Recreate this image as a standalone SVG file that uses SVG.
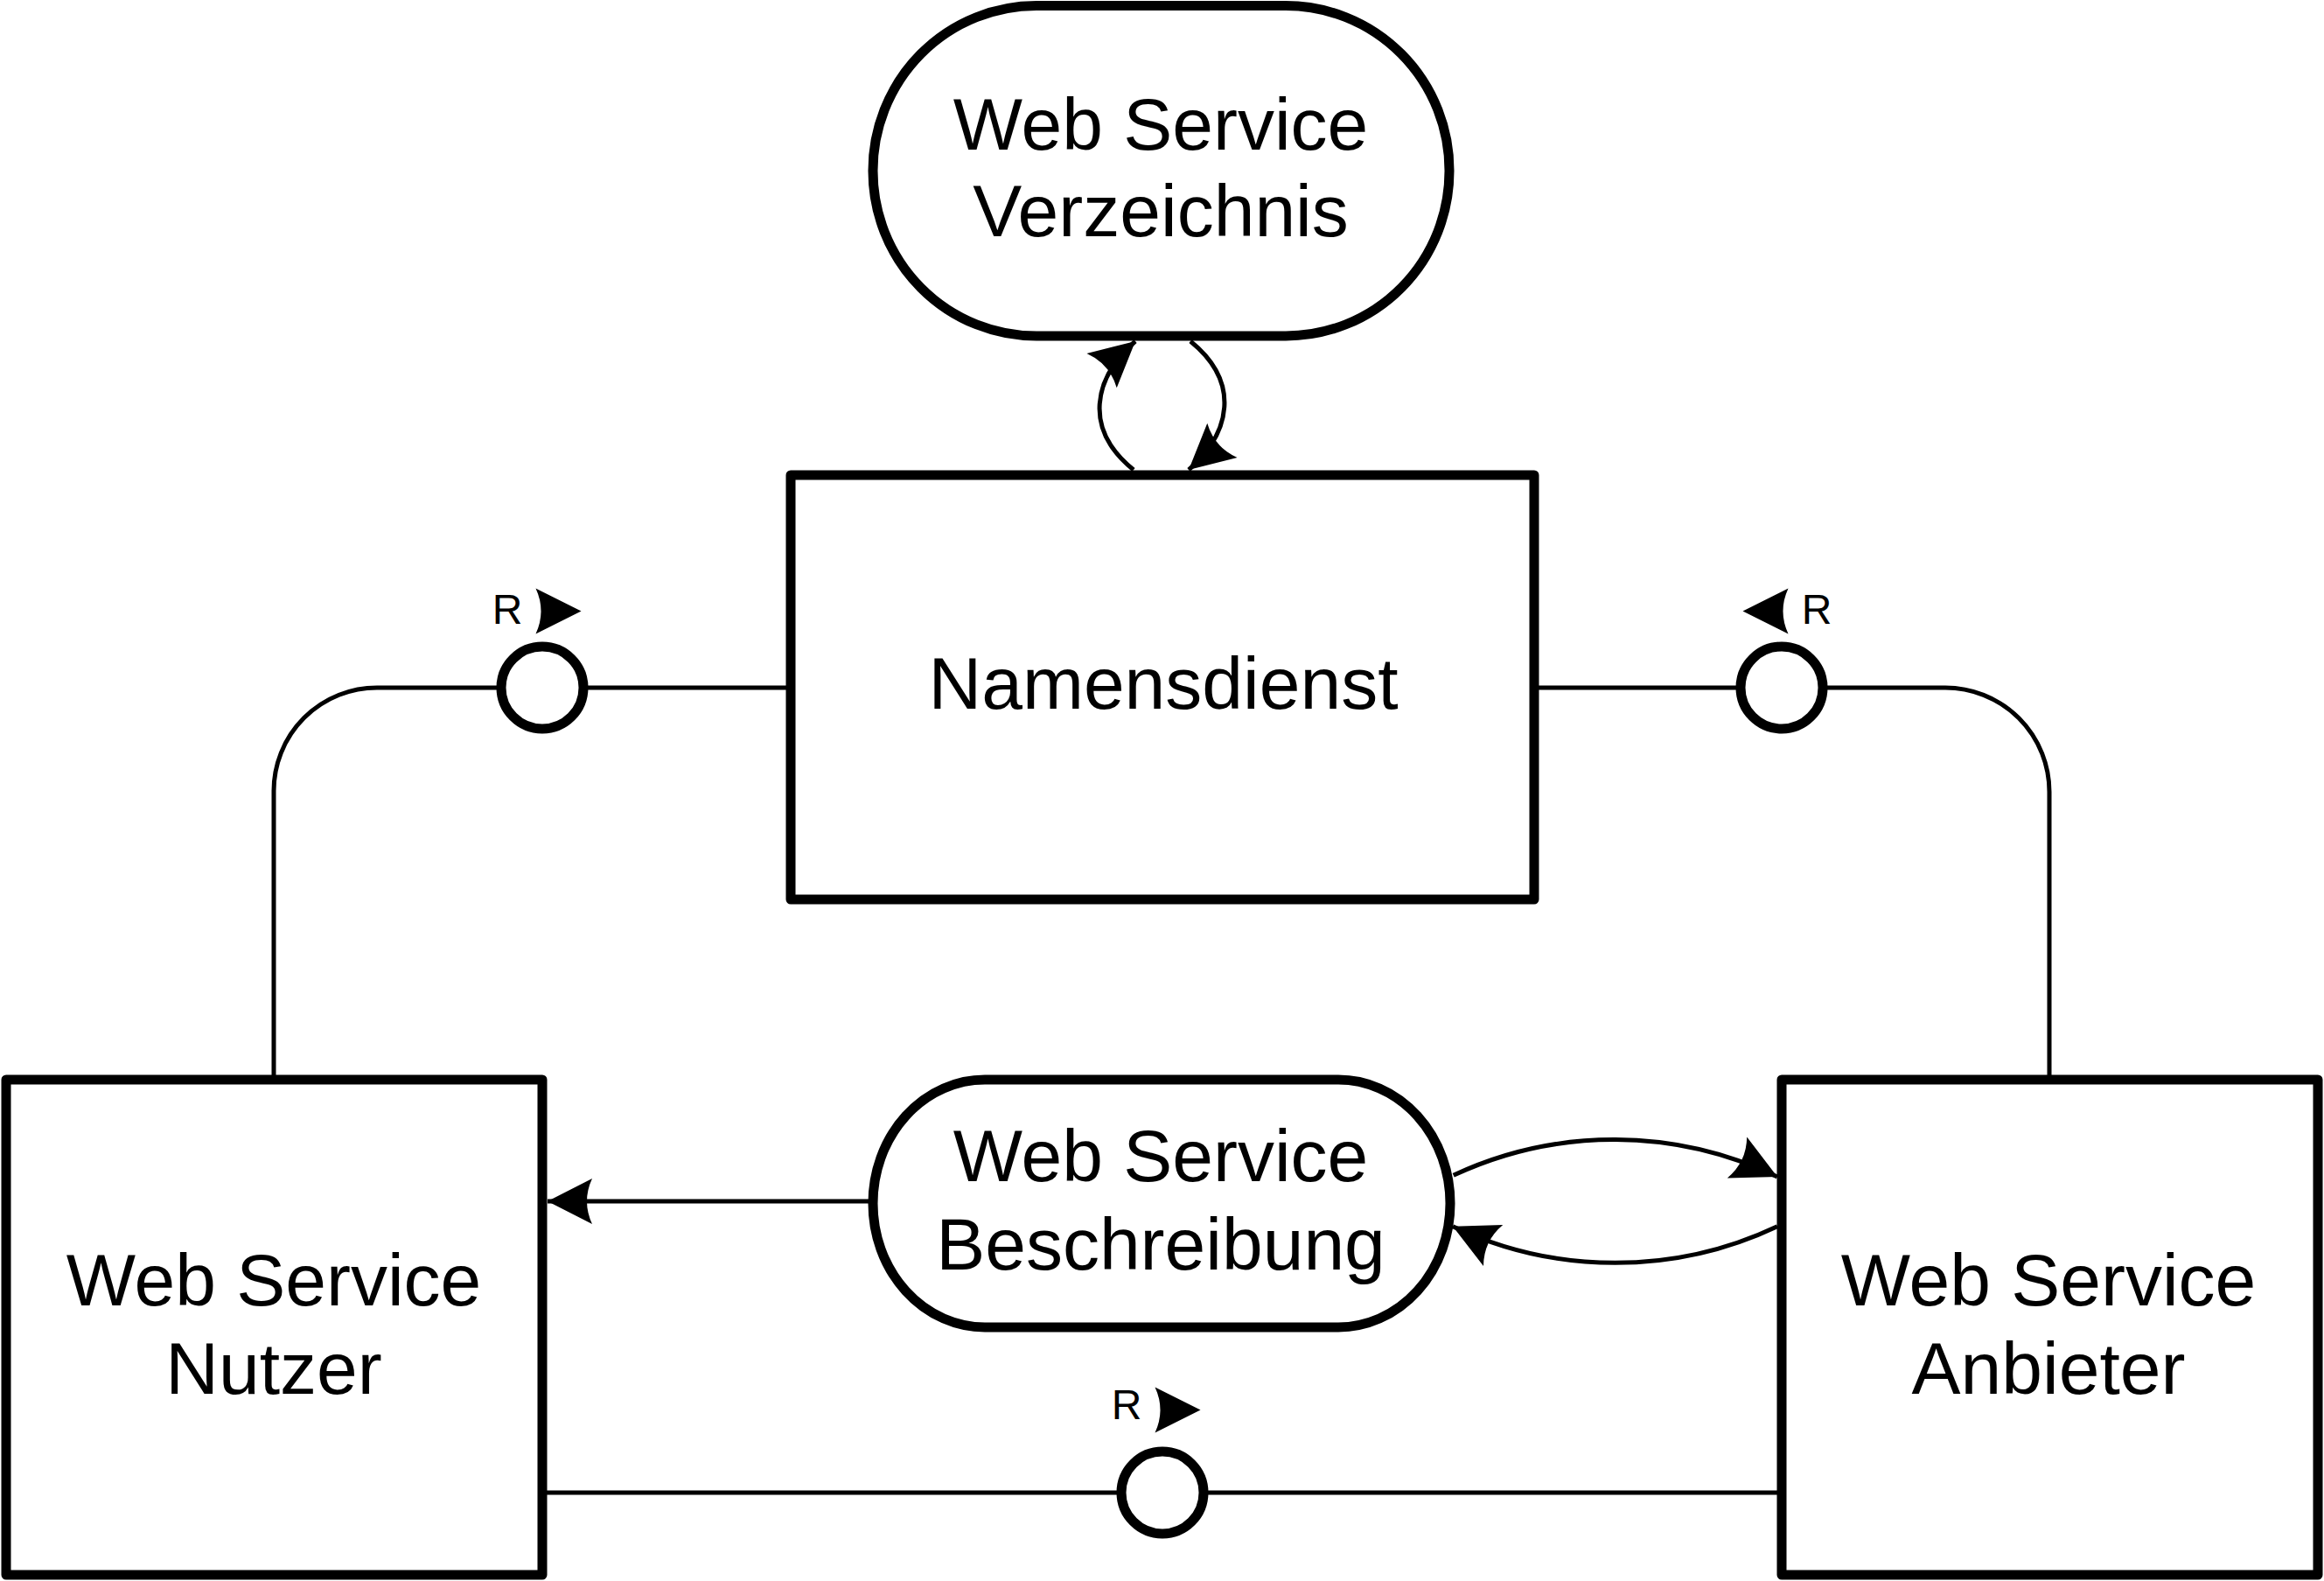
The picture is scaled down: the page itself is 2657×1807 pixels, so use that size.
<svg xmlns="http://www.w3.org/2000/svg" xmlns:xlink="http://www.w3.org/1999/xlink" width="2657" height="1807" viewBox="0 0 2657 1807">
  <style>
    .node { fill: #ffffff; stroke: #000000; stroke-width: 11; stroke-linejoin: round; }
    .iface { fill: #ffffff; stroke: #000000; stroke-width: 11; }
    .conn { fill: none; stroke: #000000; stroke-width: 5; }
    .label { font-family: "Liberation Sans", Arial, sans-serif; font-size: 84px; fill: #000000; text-anchor: middle; }
    .rlabel { font-family: "Liberation Sans", Arial, sans-serif; font-size: 48px; fill: #000000; text-anchor: middle; }
  </style>
  <defs>
    <path id="ahShape" d="M 0 0 L -52 -26 Q -40 0 -52 26 Z" fill="#000000"/>
    <marker id="arrow" markerUnits="userSpaceOnUse" markerWidth="60" markerHeight="60" refX="0" refY="0" orient="auto" overflow="visible">
      <path d="M 0 0 L -51 -26 Q -39 0 -51 26 Z" fill="#000000"/>
    </marker>
  </defs>
  <rect x="0" y="0" width="2657" height="1807" fill="#ffffff"/>

  <g id="connectors">
    <!-- Nutzer to Namensdienst via interface -->
    <path class="conn" d="M 904 786 H 431 A 118 118 0 0 0 313 904 V 1234"/>
    <!-- Anbieter to Namensdienst via interface -->
    <path class="conn" d="M 1754 786 H 2224 A 119 119 0 0 1 2343 905 V 1234"/>
    <!-- Nutzer to Anbieter via interface -->
    <path class="conn" d="M 620 1706 H 2037"/>
    <!-- Beschreibung to Nutzer -->
    <path class="conn" d="M 998 1373 H 626" marker-end="url(#arrow)"/>
    <!-- Beschreibung to Anbieter -->
    <path class="conn" d="M 1661.7 1343.3 A 433 433 0 0 1 2032 1345" marker-end="url(#arrow)"/>
    <!-- Anbieter to Beschreibung -->
    <path class="conn" d="M 2032 1401.7 A 434 434 0 0 1 1661 1401.7" marker-end="url(#arrow)"/>
    <!-- Namensdienst to Verzeichnis -->
    <path class="conn" d="M 1296 537 C 1238 490, 1250 432, 1298 390" marker-end="url(#arrow)"/>
    <!-- Verzeichnis to Namensdienst -->
    <path class="conn" d="M 1361 390 C 1419 437, 1407 495, 1359 537" marker-end="url(#arrow)"/>
  </g>

  <g id="node-verzeichnis">
    <rect class="node" x="998" y="6.5" width="659" height="377.5" rx="187" ry="188.5"/>
    <text class="label" x="1327" y="171">Web Service</text>
    <text class="label" x="1327" y="270">Verzeichnis</text>
  </g>

  <g id="node-namensdienst">
    <rect class="node" x="904" y="543" width="850" height="485"/>
    <text class="label" x="1330" y="810">Namensdienst</text>
  </g>

  <g id="node-beschreibung">
    <rect class="node" x="998" y="1234" width="660" height="283" rx="128" ry="141.5"/>
    <text class="label" x="1327" y="1350">Web Service</text>
    <text class="label" x="1327" y="1451">Beschreibung</text>
  </g>

  <g id="node-nutzer">
    <rect class="node" x="7" y="1234" width="613" height="566"/>
    <text class="label" x="313" y="1492">Web Service</text>
    <text class="label" x="313" y="1593">Nutzer</text>
  </g>

  <g id="node-anbieter">
    <rect class="node" x="2037" y="1234" width="613" height="566"/>
    <text class="label" x="2342" y="1492">Web Service</text>
    <text class="label" x="2342" y="1593">Anbieter</text>
  </g>

  <g id="iface-nutzer-namensdienst">
    <circle class="iface" cx="620" cy="786" r="47"/>
    <text class="rlabel" x="580" y="713">R</text>
    <use xlink:href="#ahShape" href="#ahShape" transform="translate(664.5 698.5)"/>
  </g>

  <g id="iface-anbieter-namensdienst">
    <circle class="iface" cx="2037" cy="786" r="47"/>
    <text class="rlabel" x="2077" y="713">R</text>
    <use xlink:href="#ahShape" href="#ahShape" transform="translate(1992.5 698.5) rotate(180)"/>
  </g>

  <g id="iface-nutzer-anbieter">
    <circle class="iface" cx="1329" cy="1706" r="47"/>
    <text class="rlabel" x="1288" y="1622">R</text>
    <use xlink:href="#ahShape" href="#ahShape" transform="translate(1372.5 1611.5)"/>
  </g>
</svg>
